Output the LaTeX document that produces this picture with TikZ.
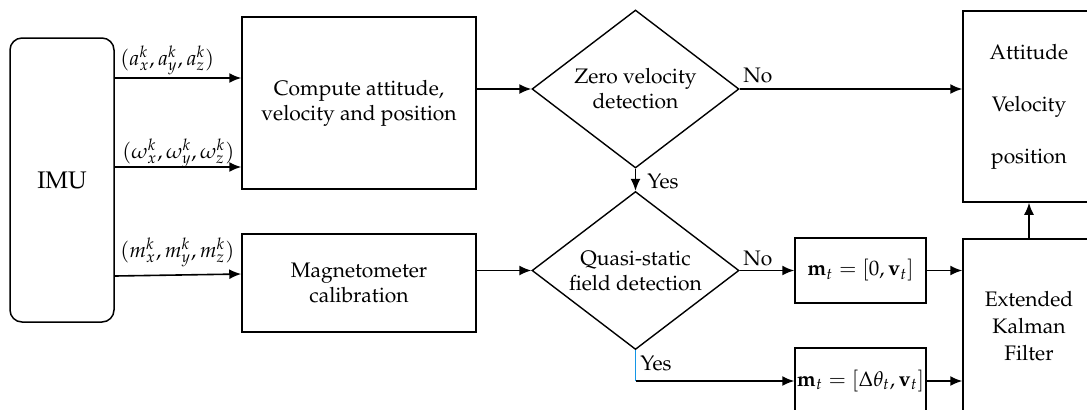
\documentclass[tikz,border=0pt]{standalone}
\usepackage[T1]{fontenc}
\usepackage{mathpazo}
\usetikzlibrary{arrows.meta,shapes.geometric,calc}
\definecolor{blueline}{RGB}{20,150,230}
\begin{document}
\begin{tikzpicture}[x=0.5pt,y=-0.5pt, font=\fontsize{10.5}{12.5}\selectfont,
  box/.style={draw, line width=0.75pt, inner sep=0pt, align=center},
  dia/.style={diamond, draw, line width=0.7pt, minimum width=103.5pt, minimum height=79pt, inner sep=0pt},
  arr/.style={-{Latex[length=6pt,width=5pt]}, line width=0.8pt},
  lab/.style={inner sep=0pt}]
\useasboundingbox (0,0) rectangle (1087,409);
\clip (0,0) rectangle (1087,409);
% blocks
\node[box, rounded corners=6pt, minimum width=52pt, minimum height=142pt, font=\fontsize{12}{14}\selectfont] (imu) at (62,180) {IMU};
\node[box, minimum width=117pt, minimum height=86pt] (comp) at (359,103) {Compute attitude,\\velocity and position};
\node[box, minimum width=117pt, minimum height=49pt] (mag) at (359,283) {Magnetometer\\calibration};
\node[dia, label={[align=center]center:Zero velocity\\detection}] (zv) at (635.5,89) {};
\node[dia, label={[align=center]center:Quasi-static\\field detection}] (qs) at (635.5,270.5) {};
\node[box, minimum width=66pt, minimum height=95.5pt, font=\fontsize{10.5}{26}\selectfont] (att) at (1029,106.5) {Attitude\\Velocity\\position};
\node[box, minimum width=66pt, minimum height=87pt, font=\fontsize{10.5}{13.5}\selectfont] (ekf) at (1029,326) {Extended\\Kalman\\Filter};
\node[box, minimum width=65.5pt, minimum height=32.5pt] (m1) at (860.5,270.5) {$\mathbf{m}_t =[0, \mathbf{v}_t]$};
\node[box, minimum width=65.5pt, minimum height=33pt] (m2) at (860.5,381) {$\mathbf{m}_t =[\Delta\theta_t, \mathbf{v}_t]$};
% connectors
\coordinate (ra) at (0,78);
\coordinate (rw) at (0,167);
\coordinate (rm1) at (0,276);
\coordinate (rm2) at (0,274);
\draw[arr] (imu.east |- ra) -- (comp.west |- ra);
\draw[arr] (imu.east |- rw) -- (comp.west |- rw);
\draw[arr] (imu.east |- rm1) -- (mag.west |- rm2);
\draw[arr] (comp.east |- zv.west) -- (zv.west);
\draw[arr] (zv.east) -- (att.west |- zv.east);
\draw[arr] (zv.south) -- (qs.north);
\draw[arr] (mag.east |- qs.west) -- (qs.west);
\draw[arr] (qs.east) -- (m1.west |- qs.east);
\coordinate (yc) at (qs.south |- m2.west);
\draw[line width=0.8pt, blueline] (qs.south) -- (yc);
\draw[arr] (yc) -- (m2.west);
\draw[arr] (m1.east) -- (ekf.west |- m1.east);
\draw[arr] (m2.east) -- (ekf.west |- m2.east);
\draw[arr] (ekf.north) -- (att.south);
% labels
\node[lab, anchor=base west] (la) at (120,65) {$(a_x^k, a_y^k, a_z^k)$};
\node[lab, anchor=base west] (lw) at (122,158) {$(\omega_x^k, \omega_y^k, \omega_z^k)$};
\node[lab, anchor=base west] (lm) at (120,257) {$(m_x^k, m_y^k, m_z^k)$};
\node[lab, anchor=base west] (no1) at (743,82) {No};
\node[lab, anchor=base west] (yes1) at (647,188) {Yes};
\node[lab, anchor=base west] (no2) at (743,265) {No};
\node[lab, anchor=base west] (yes2) at (640,370) {Yes};
\end{tikzpicture}
\end{document}
